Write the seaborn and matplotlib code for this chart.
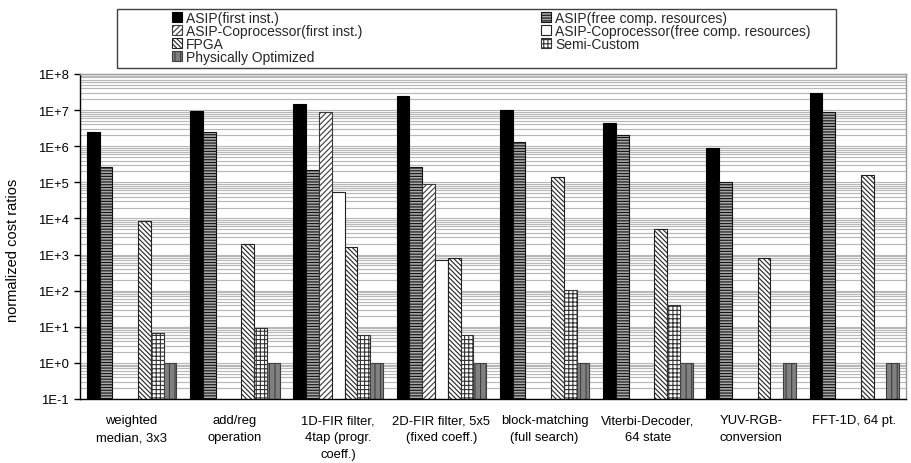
import numpy as np
import pandas as pd
import matplotlib
matplotlib.use("Agg")
import matplotlib.pyplot as plt
import seaborn as sns
from matplotlib.patches import Patch, Rectangle
from matplotlib.ticker import FixedLocator, FuncFormatter, LogLocator, NullFormatter

nan = np.nan

categories = [
    "weighted\nmedian, 3x3",
    "add/reg\noperation",
    "1D-FIR filter,\n4tap (progr.\ncoeff.)",
    "2D-FIR filter, 5x5\n(fixed coeff.)",
    "block-matching\n(full search)",
    "Viterbi-Decoder,\n64 state",
    "YUV-RGB-\nconversion",
    "FFT-1D, 64 pt.",
]

series_names = [
    "ASIP(first inst.)",
    "ASIP(free comp. resources)",
    "ASIP-Coprocessor(first inst.)",
    "ASIP-Coprocessor(free comp. resources)",
    "FPGA",
    "Semi-Custom",
    "Physically Optimized",
]

asip_first = [2.4e6, 9.5e6, 1.5e7, 2.4e7, 1.0e7, 4.4e6, 9.0e5, 3.0e7]
asip_free = [2.6e5, 2.4e6, 2.2e5, 2.7e5, 1.35e6, 2.1e6, 1.0e5, 9.0e6]
coproc_first = [nan, nan, 8.7e6, 9.0e4, nan, nan, nan, nan]
coproc_free = [nan, nan, 5.5e4, 7.2e2, nan, nan, nan, nan]
fpga = [8.7e3, 2.0e3, 1.65e3, 8.2e2, 1.4e5, 5.0e3, 7.8e2, 1.55e5]
semi_custom = [6.8, 9.0, 5.8, 5.8, 1.05e2, 40.0, nan, nan]
phys_opt = [1, 1, 1, 1, 1, 1, 1, 1]

series_values = [asip_first, asip_free, coproc_first, coproc_free,
                 fpga, semi_custom, phys_opt]

styles = {
    "ASIP(first inst.)": dict(facecolor="black", hatch="", edgecolor="black"),
    "ASIP(free comp. resources)": dict(facecolor="#a8a8a8", hatch="------", edgecolor="#111111"),
    "ASIP-Coprocessor(first inst.)": dict(facecolor="white", hatch="//////", edgecolor="#3a3a3a"),
    "ASIP-Coprocessor(free comp. resources)": dict(facecolor="white", hatch="", edgecolor="#222222"),
    "FPGA": dict(facecolor="white", hatch="\\\\\\\\\\\\\\", edgecolor="#222222"),
    "Semi-Custom": dict(facecolor="white", hatch="++++", edgecolor="#333333"),
    "Physically Optimized": dict(facecolor="#808080", hatch="|||", edgecolor="#404040"),
}

rows = []
for name, vals in zip(series_names, series_values):
    for c, v in zip(categories, vals):
        if not np.isnan(v):
            rows.append({"task": c, "series": name, "ratio": v})
df = pd.DataFrame(rows)

sns.set_theme(style="white")
plt.rcParams["font.family"] = ["Liberation Sans Narrow", "Liberation Sans", "DejaVu Sans"]
plt.rcParams["hatch.linewidth"] = 0.8
FS_TICK = 9.4
FS_LEG = 10
FS_LAB = 10.5

W, H = 911, 464
fig = plt.figure(figsize=(W / 100, H / 100), dpi=100)
fig.patch.set_facecolor("white")
ax = fig.add_axes([80 / W, 1 - 400 / H, 826 / W, 325 / H])

sns.barplot(data=df, x="task", y="ratio", hue="series", order=categories,
            hue_order=series_names, width=0.865, errorbar=None,
            log_scale=True, legend=False, dodge=True, ax=ax)

for container, name in zip(ax.containers, series_names):
    st = styles[name]
    for bar in container:
        bar.set_facecolor(st["facecolor"])
        bar.set_edgecolor(st["edgecolor"])
        bar.set_hatch(st["hatch"])
        bar.set_linewidth(0.8)

ax.set_yscale("log")
ax.set_ylim(0.1, 1e8)
ax.set_xlim(-0.5, 7.5)
ax.yaxis.set_major_locator(LogLocator(base=10, numticks=20))
ax.yaxis.set_minor_locator(LogLocator(base=10, subs=np.arange(2, 10), numticks=200))
ax.yaxis.set_minor_formatter(NullFormatter())
ax.yaxis.set_major_formatter(FuncFormatter(lambda v, p: f"1E{int(round(np.log10(v))):+d}"))
ax.grid(which="both", axis="y", color="#b8b8b8", lw=0.85)
ax.grid(False, axis="x")
ax.set_axisbelow(True)

ax.xaxis.set_minor_locator(FixedLocator(np.arange(-0.5, 8.0, 1.0)))
ax.tick_params(axis="x", which="major", length=0, pad=11, labelsize=FS_TICK, colors="black")
ax.tick_params(axis="x", which="minor", length=5, width=1, direction="out", color="black")
ax.tick_params(axis="y", which="major", length=4, width=1, direction="out", pad=4,
               labelsize=FS_TICK, colors="black", left=True)
ax.tick_params(axis="y", which="minor", length=0)
for lab in ax.get_xticklabels():
    lab.set_linespacing(1.55)

ax.set_xlabel("")
ax.set_ylabel("normalized cost ratios", fontsize=FS_LAB, color="black")
ax.yaxis.set_label_coords(-(80 - 20) / 826, (400 - 250) / 325)

for s in ["left", "bottom"]:
    ax.spines[s].set_color("black")
    ax.spines[s].set_linewidth(1)
for s in ["top", "right"]:
    ax.spines[s].set_color("#999999")
    ax.spines[s].set_linewidth(1)

# legend box
fig.patches.append(Rectangle((117 / W, 1 - 69 / H), 719 / W, 59 / H,
                             transform=fig.transFigure, facecolor="white",
                             edgecolor="#404040", lw=1.0, zorder=0))

def handle(name):
    st = styles[name]
    return Patch(facecolor=st["facecolor"], edgecolor=st["edgecolor"],
                 hatch=st["hatch"], linewidth=0.8)

col1 = [series_names[0], series_names[2], series_names[4], series_names[6]]
col2 = [series_names[1], series_names[3], series_names[5]]
leg_kw = dict(frameon=False, loc="upper left", fontsize=FS_LEG, borderpad=0,
              handlelength=0.7, handleheight=0.7, handletextpad=0.3,
              labelspacing=-0.07, borderaxespad=0)
leg1 = fig.legend([handle(n) for n in col1], col1,
                  bbox_to_anchor=(172 / W, 1 - 12 / H), **leg_kw)
leg2 = fig.legend([handle(n) for n in col2], col2,
                  bbox_to_anchor=(541 / W, 1 - 12 / H), **leg_kw)

fig.savefig("out.png", dpi=100, facecolor="white")
